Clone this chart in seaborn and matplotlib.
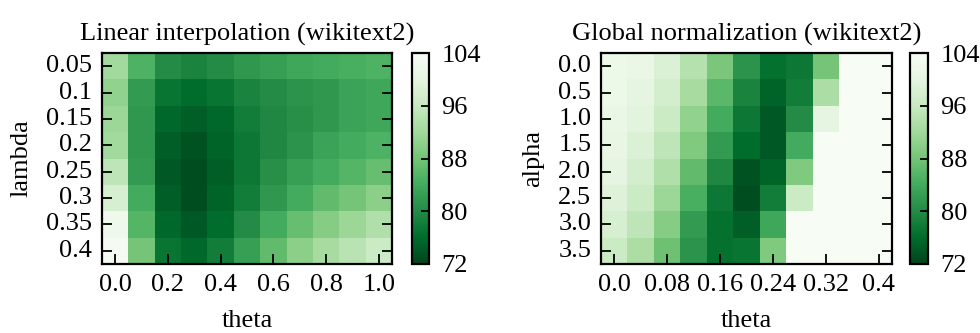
import numpy as np
import pandas as pd
import matplotlib
matplotlib.use("Agg")
import matplotlib.pyplot as plt
import seaborn as sns

# ---- data ----
lin_theta = [0.0, 0.1, 0.2, 0.3, 0.4, 0.5, 0.6, 0.7, 0.8, 0.9, 1.0]
lin_lambda = ["0.05", "0.1", "0.15", "0.2", "0.25", "0.3", "0.35", "0.4"]
lin_values = [
    [92.0, 85.0, 80.0, 79.0, 80.0, 81.5, 82.5, 83.5, 84.0, 84.5, 85.0],
    [90.5, 82.0, 77.0, 76.0, 77.0, 79.0, 80.0, 81.0, 81.5, 83.0, 83.5],
    [91.5, 81.5, 75.5, 74.5, 75.5, 78.0, 79.5, 80.5, 81.5, 83.0, 83.5],
    [92.0, 81.5, 74.5, 73.5, 75.0, 77.5, 79.5, 81.0, 83.0, 84.0, 85.0],
    [95.0, 82.0, 74.0, 73.0, 74.5, 77.5, 80.5, 82.5, 84.0, 85.5, 87.0],
    [98.0, 84.0, 74.5, 73.0, 75.0, 78.0, 81.5, 84.0, 86.5, 88.0, 90.0],
    [102.0, 85.5, 75.5, 74.0, 76.0, 80.0, 84.0, 87.0, 89.5, 91.5, 93.5],
    [103.5, 88.0, 77.0, 75.5, 78.0, 82.5, 86.5, 90.0, 92.5, 94.5, 96.5],
]
lin_xticklabels = ["0.0", "0.2", "0.4", "0.6", "0.8", "1.0"]

glob_theta = [0.0, 0.04, 0.08, 0.12, 0.16, 0.2, 0.24, 0.28, 0.32, 0.36, 0.4]
glob_alpha = ["0.0", "0.5", "1.0", "1.5", "2.0", "2.5", "3.0", "3.5"]
glob_values = [
    [101.5, 101.0, 98.5, 94.0, 88.5, 81.0, 76.5, 77.5, 88.0, 104.0, 104.0],
    [101.5, 100.0, 97.5, 92.5, 86.0, 79.0, 75.0, 78.0, 93.0, 104.0, 104.0],
    [101.0, 99.5, 96.5, 90.5, 84.0, 77.5, 74.0, 80.0, 100.0, 104.0, 104.0],
    [100.5, 98.5, 95.0, 89.0, 82.0, 76.0, 74.0, 84.0, 104.0, 104.0, 104.0],
    [100.0, 97.5, 93.5, 86.5, 79.5, 73.5, 75.0, 89.0, 104.0, 104.0, 104.0],
    [99.0, 96.5, 91.5, 84.5, 77.5, 73.0, 78.0, 96.5, 104.0, 104.0, 104.0],
    [98.0, 95.0, 89.5, 82.0, 76.5, 74.5, 83.5, 104.0, 104.0, 104.0, 104.0],
    [96.5, 93.0, 87.5, 81.0, 76.5, 77.0, 89.0, 104.0, 104.0, 104.0, 104.0],
]
glob_xticklabels = ["0.0", "0.08", "0.16", "0.24", "0.32", "0.4"]

cbar_ticks = [72, 80, 88, 96, 104]

# ---- style ----
plt.rcParams["font.family"] = ["Liberation Serif", "DejaVu Serif"]
plt.rcParams["text.color"] = "black"
plt.rcParams["axes.labelcolor"] = "black"
plt.rcParams["xtick.color"] = "black"
plt.rcParams["ytick.color"] = "black"
FS = 19

W, H = 980, 333
fig = plt.figure(figsize=(W / 100, H / 100), dpi=100)


def box(x0, y0, x1, y1):
    return [x0 / W, 1 - y1 / H, (x1 - x0) / W, (y1 - y0) / H]


panels = [
    dict(vals=lin_values, cols=lin_theta, rows=lin_lambda, xt=lin_xticklabels,
         ylabel="lambda", title="Linear interpolation (wikitext2)",
         ax=box(102, 53, 392, 264), cax=box(412, 53, 429, 264)),
    dict(vals=glob_values, cols=glob_theta, rows=glob_alpha, xt=glob_xticklabels,
         ylabel="alpha", title="Global normalization (wikitext2)",
         ax=box(601, 53, 892, 264), cax=box(910, 53, 928, 264)),
]

for p in panels:
    ax = fig.add_axes(p["ax"])
    cax = fig.add_axes(p["cax"])
    df = pd.DataFrame(p["vals"], index=p["rows"], columns=p["cols"])
    sns.heatmap(df, ax=ax, cbar_ax=cax, cmap="Greens_r", vmin=72, vmax=104,
                cbar_kws={"ticks": cbar_ticks})
    ncol = len(p["cols"])
    ax.set_xticks(np.arange(0, ncol, 2) + 0.5)
    ax.set_xticklabels(p["xt"], rotation=0, fontsize=FS)
    ax.set_yticks(np.arange(len(p["rows"])) + 0.5)
    ax.set_yticklabels(p["rows"], rotation=0, fontsize=FS)
    ax.tick_params(axis="both", which="major", direction="in", length=7,
                   width=1.3, color="black",
                   left=True, right=True, bottom=True, top=False, pad=7)
    for s in ax.spines.values():
        s.set_visible(True)
        s.set_linewidth(1.6)
        s.set_color("black")
        s.set_zorder(5)
    ax.set_xlabel("theta", fontsize=FS, labelpad=10)
    ax.set_ylabel(p["ylabel"], fontsize=FS, labelpad=10)
    ax.set_title(p["title"], fontsize=FS, pad=9)
    cb = ax.collections[0].colorbar
    cb.outline.set_visible(True)
    cb.outline.set_linewidth(1.6)
    cb.outline.set_edgecolor("black")
    cax.tick_params(which="major", direction="in", length=6, width=1.3,
                    labelsize=FS, color="black", right=True, left=False, pad=9)
    cax.tick_params(which="minor", length=0)

fig.savefig("out.png", dpi=100)
